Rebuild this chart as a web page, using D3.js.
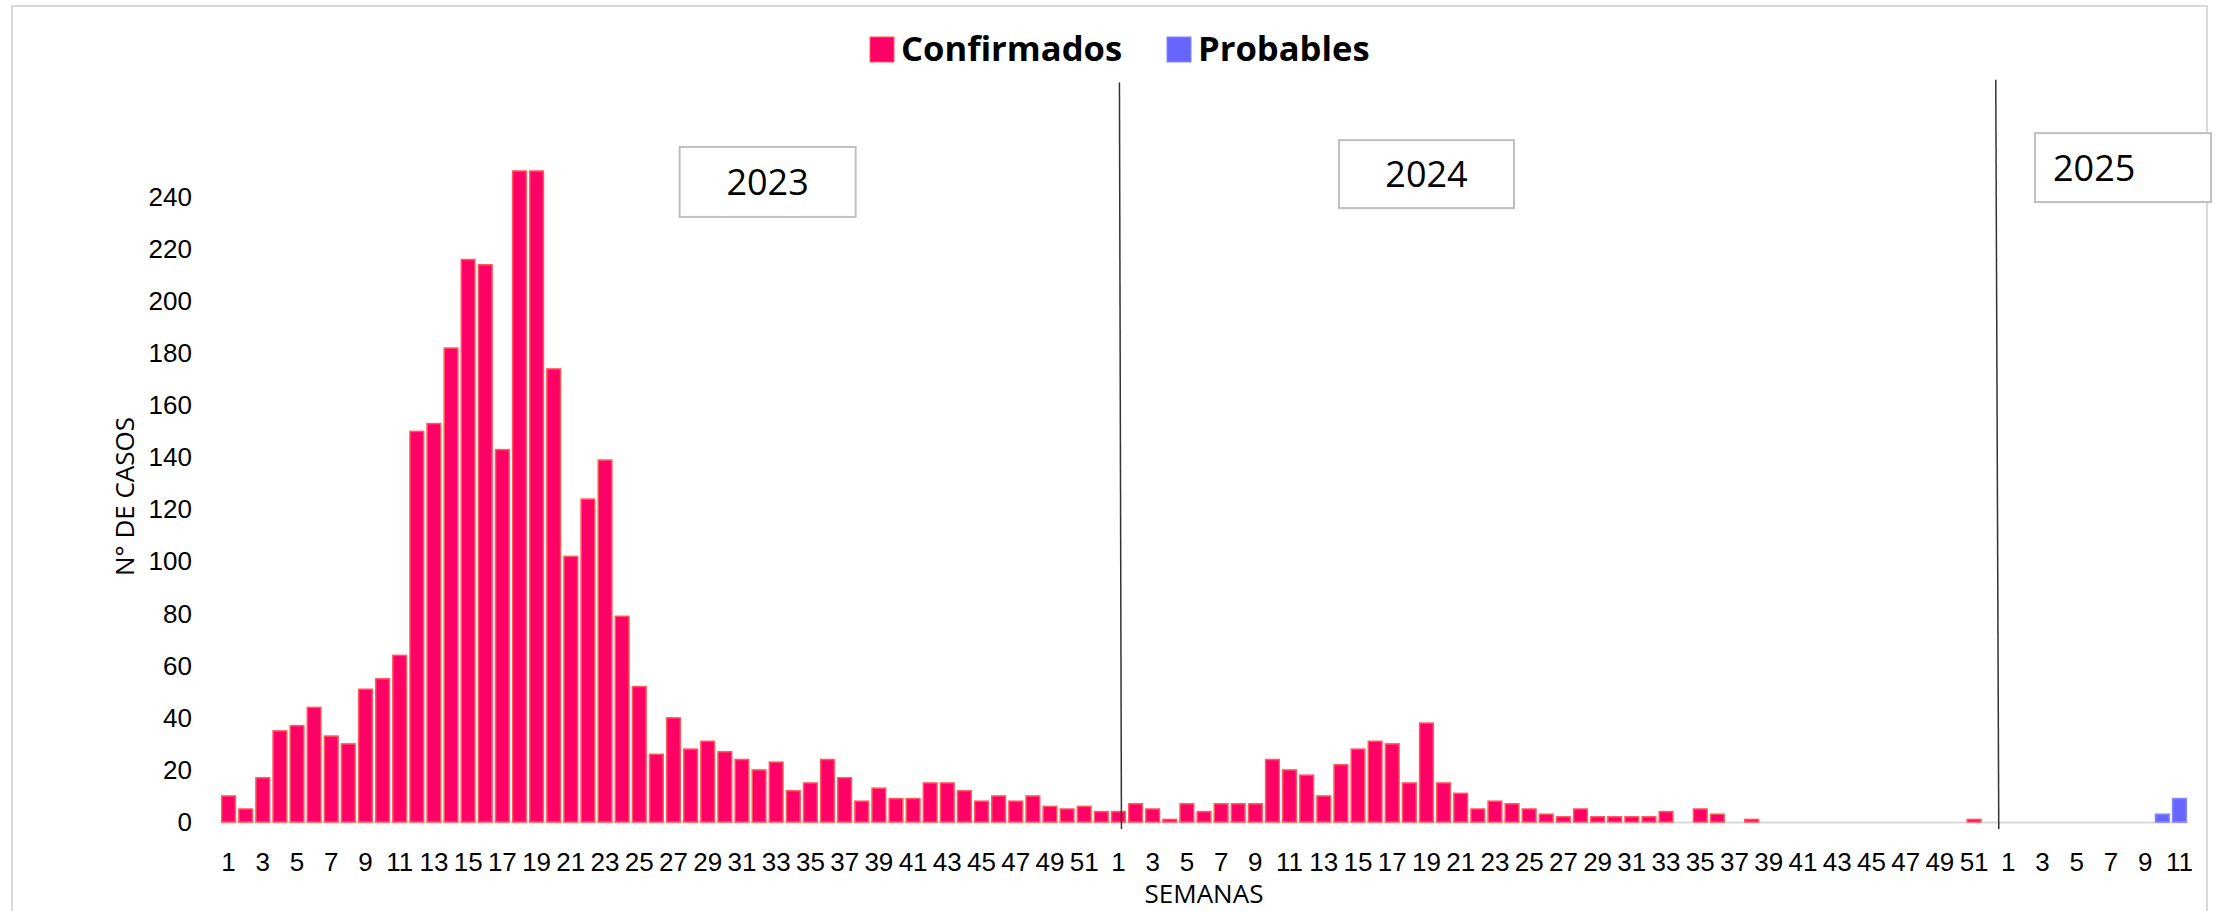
<!DOCTYPE html>
<meta charset="utf-8">
<style>
body { margin: 0; background: #fff; }
svg { display: block; font-family: "Open Sans", sans-serif; }
.tick text { font-size: 26px; fill: #000; }
.legend text { font: 700 34.6px "Open Sans", sans-serif; fill: #000; }
.year-box rect { fill: #fff; stroke: #bfbfbf; stroke-width: 2; }
.year-box text { font-size: 36px; fill: #000; }
.axis-title { font-size: 26px; fill: #000; }
</style>
<body>
<script src="https://cdn.jsdelivr.net/npm/d3@7"></script>
<script>

const years = ["2023", "2024", "2025"];
const weeksPerYear = [52, 52, 11];

// weekly case counts (weeks 18-19 of 2023 run past the axis top)
const confirmados2023 = [10, 5, 17, 35, 37, 44, 33, 30, 51, 55, 64, 150, 153, 182, 216, 214, 143, 250, 250, 174,
  102, 124, 139, 79, 52, 26, 40, 28, 31, 27, 24, 20, 23, 12, 15, 24, 17, 8, 13, 9,
  9, 15, 15, 12, 8, 10, 8, 10, 6, 5, 6, 4];
const confirmados2024 = [4, 7, 5, 1, 7, 4, 7, 7, 7, 24, 20, 18, 10, 22, 28, 31, 30, 15, 38, 15,
  11, 5, 8, 7, 5, 3, 2, 5, 2, 2, 2, 2, 4, 0, 5, 3, 0, 1, 0, 0,
  0, 0, 0, 0, 0, 0, 0, 0, 0, 0, 1, 0];
const confirmados2025 = [0, 0, 0, 0, 0, 0, 0, 0, 0, 0, 0];
const probables2025 = [0, 0, 0, 0, 0, 0, 0, 0, 0, 3, 9];

const yTicks = [0, 20, 40, 60, 80, 100, 120, 140, 160, 180, 200, 220, 240];
const yMax = 250;

const seriesNames = ["Confirmados", "Probables"];
const seriesColors = ["#ff0066", "#6666ff"];
const seriesStrokes = ["#ff5a5a", "#8585ff"];

const confirmados = [confirmados2023, confirmados2024, confirmados2025];
const probables = [null, null, probables2025];

// flat list of weeks across the three years
let rows = [];
years.forEach(function(yr, i) {
  d3.range(1, weeksPerYear[i] + 1).forEach(function(w) {
    rows.push({
      key: yr + "-" + w,
      year: yr,
      week: w,
      values: [confirmados[i][w - 1], probables[i] ? probables[i][w - 1] : 0]
    });
  });
});

let width = 2224,
    height = 911,
    margin = {top: 171, right: 36, bottom: 89, left: 220};

let svg = d3.select("body").append("svg")
    .attr("width", width)
    .attr("height", height);

// outer chart frame
svg.append("rect")
    .attr("x", 12).attr("y", 6)
    .attr("width", 2195).attr("height", height + 10)
    .attr("fill", "none")
    .attr("stroke", "#d9d9d9")
    .attr("stroke-width", 2);

let x = d3.scaleBand()
    .domain(rows.map(d => d.key))
    .range([margin.left, width - margin.right])
    .paddingInner(0.2)
    .paddingOuter(0.1);

// index scale for things placed between weeks
let idx = d3.scaleLinear()
    .domain([0, rows.length])
    .range([x(rows[0].key) - x.step() * x.paddingInner() / 2, x(rows[0].key) - x.step() * x.paddingInner() / 2 + x.step() * rows.length]);

let y = d3.scaleLinear()
    .domain([0, yMax])
    .range([height - margin.bottom, margin.top]);

// y axis, labels only
let yAxis = svg.append("g")
    .attr("transform", "translate(" + margin.left + ",0)")
    .call(d3.axisLeft(y).tickValues(yTicks).tickSize(0).tickPadding(28));
yAxis.select(".domain").remove();

// x axis, odd weeks labelled
let xAxis = svg.append("g")
    .attr("transform", "translate(0," + y(0) + ")")
    .call(d3.axisBottom(x).tickSize(0).tickSizeOuter(0).tickPadding(31)
      .tickFormat(function(k) { let w = +k.split("-")[1]; return w % 2 ? w : ""; }));
xAxis.select(".domain")
    .attr("stroke", "#d9d9d9")
    .attr("stroke-width", 2);

// bars
seriesNames.forEach(function(name, s) {
  svg.append("g").selectAll("rect")
    .data(rows.filter(d => d.values[s] > 0))
    .enter().append("rect")
      .attr("x", d => x(d.key))
      .attr("width", x.bandwidth())
      .attr("y", d => y(d.values[s]))
      .attr("height", d => y(0) - y(d.values[s]))
      .attr("fill", seriesColors[s])
      .attr("stroke", seriesStrokes[s])
      .attr("stroke-width", 1.5);
});

// year separators
[[52.5, 1, 3, 284], [104, -4, -1, 285]].forEach(function(l) {
  svg.append("line")
    .attr("x1", idx(l[0]) + l[1]).attr("x2", idx(l[0]) + l[2])
    .attr("y1", y(l[3])).attr("y2", y(0) + 7)
    .attr("stroke", "#333")
    .attr("stroke-width", 1.5);
});

// year boxes
[{t: "2023", at: 32, v: 245.8, w: 176, h: 70, left: false},
 {t: "2024", at: 70.5, v: 248.8, w: 175, h: 68, left: false},
 {t: "2025", at: 111.2, v: 251.3, w: 176, h: 69, left: true}].forEach(function(b) {
  let g = svg.append("g").attr("class", "year-box")
      .attr("transform", "translate(" + idx(b.at) + "," + y(b.v) + ")");
  g.append("rect")
    .attr("x", -b.w / 2).attr("y", -b.h / 2)
    .attr("width", b.w).attr("height", b.h);
  g.append("text")
    .attr("x", b.left ? -b.w / 2 + 18 : 0)
    .attr("dy", "0.36em")
    .attr("text-anchor", b.left ? "start" : "middle")
    .text(b.t);
});

// axis titles
svg.append("text")
    .attr("class", "axis-title")
    .attr("transform", "translate(125," + (y(0) + y(yMax)) / 2 + ")rotate(-90)")
    .attr("dy", "0.35em")
    .attr("text-anchor", "middle")
    .text("N° DE CASOS");

svg.append("text")
    .attr("class", "axis-title")
    .attr("x", x("2024-6") + x.bandwidth() / 2)
    .attr("y", 903)
    .attr("text-anchor", "middle")
    .text("SEMANAS");

// legend
let legend = svg.append("g").attr("class", "legend");
let lx = [870, 1167];
seriesNames.forEach(function(name, s) {
  legend.append("rect")
    .attr("x", lx[s]).attr("y", 37)
    .attr("width", 24).attr("height", 25)
    .attr("fill", seriesColors[s])
    .attr("stroke", seriesStrokes[s])
    .attr("stroke-width", 1);
  legend.append("text")
    .attr("x", lx[s] + 31).attr("y", 61)
    .text(name);
});

</script>
